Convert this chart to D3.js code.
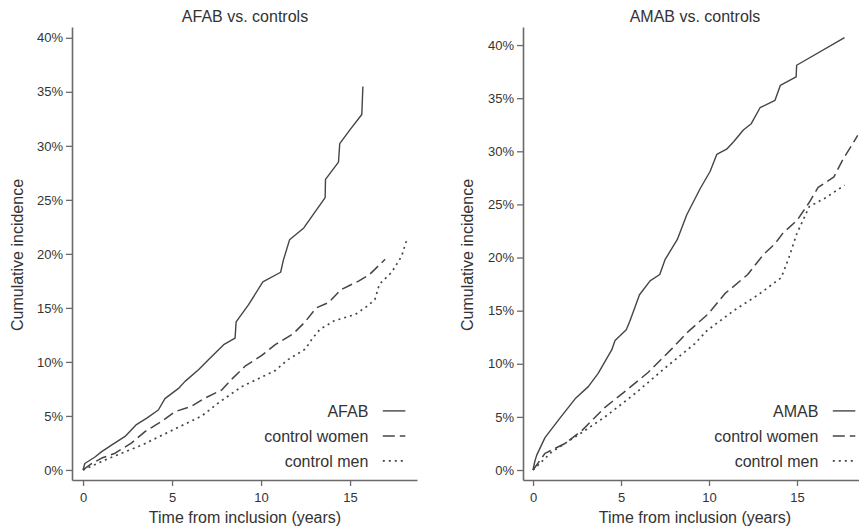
<!DOCTYPE html>
<html>
<head>
<meta charset="utf-8">
<script src="https://cdn.jsdelivr.net/npm/d3@7"></script>
<style>
  html, body { margin: 0; padding: 0; background: #fff; }
  svg { display: block; font-family: "Liberation Sans", Arial, Helvetica, sans-serif; }
</style>
</head>
<body>
<svg id="chart" width="859" height="528"></svg>
<script>
// Cumulative incidence curves: [years from inclusion, cumulative incidence %]
const afab = [[0,0],[0.1,0.6],[0.67,1.2],[1.05,1.7],[1.6,2.3],[2.36,3.1],[3.0,4.2],[3.58,4.8],[4.23,5.55],[4.6,6.6],[5.4,7.6],[5.73,8.2],[6.5,9.3],[7.1,10.3],[7.9,11.6],[8.54,12.2],[8.6,13.7],[9.3,15.3],[10.1,17.4],[11.1,18.3],[11.25,19.4],[11.6,21.3],[12.4,22.4],[13.6,25.2],[13.62,26.9],[14.35,28.5],[14.42,30.2],[15.0,31.5],[15.66,32.9],[15.72,35.5]];
const afabControlWomen = [[0,0],[0.5,0.6],[1.05,1.1],[1.8,1.55],[2.73,2.5],[3.48,3.55],[4.42,4.5],[5.17,5.4],[6.1,5.9],[6.85,6.65],[7.79,7.4],[8.35,8.4],[9.1,9.6],[10.04,10.6],[10.8,11.6],[11.8,12.6],[12.47,13.7],[13.1,15.0],[13.8,15.5],[14.5,16.7],[15.5,17.5],[16.1,18.1],[16.97,19.5]];
const afabControlMen = [[0,0],[1.42,1.05],[3.3,2.3],[5.17,3.8],[6.67,5.0],[7.6,6.2],[8.9,7.7],[10.8,9.2],[11.5,10.2],[12.5,11.2],[12.85,12.1],[13.3,13.0],[14.1,13.8],[15.3,14.4],[16.0,15.2],[16.4,15.8],[16.65,17.2],[17.34,18.3],[17.9,19.8],[18.2,21.4]];

const amab = [[0,0],[0.1,0.8],[0.21,1.4],[0.68,3.05],[1.44,4.7],[2.39,6.7],[3.14,7.85],[3.7,9.1],[4.47,11.3],[4.66,12.2],[5.3,13.2],[5.5,14.0],[6.05,16.5],[6.65,17.8],[7.2,18.4],[7.5,19.8],[8.2,21.7],[8.73,24.0],[9.5,26.5],[10.06,28.1],[10.44,29.7],[11.0,30.2],[11.4,30.9],[11.95,32.0],[12.4,32.6],[12.9,34.1],[13.75,34.8],[14.05,36.2],[14.95,37.0],[14.98,38.1],[17.7,40.7]];
const amabControlWomen = [[0,0],[0.68,1.57],[1.82,2.5],[2.77,3.7],[4.09,5.9],[5.23,7.4],[6.55,9.2],[7.88,11.4],[8.8,13.0],[9.96,14.7],[10.9,16.6],[12.2,18.4],[13.1,20.3],[13.75,21.3],[14.2,22.3],[15.0,23.5],[15.7,25.2],[16.2,26.6],[17.1,27.6],[17.6,29.2],[18.45,31.5]];
const amabControlMen = [[0,0],[1.06,1.7],[2.57,3.3],[4.09,5.0],[5.8,7.2],[7.5,9.6],[9.2,11.9],[9.87,13.1],[11.4,15.0],[12.8,16.5],[14.1,18.1],[14.5,19.8],[15.0,22.3],[15.7,24.8],[16.6,25.6],[17.7,26.8]];

const xTicks = [0, 5, 10, 15];
const yTicks = [0, 5, 10, 15, 20, 25, 30, 35, 40];
const panelTitles = ["AFAB vs. controls", "AMAB vs. controls"];
const leftLegend = ["AFAB", "control women", "control men"];
const rightLegend = ["AMAB", "control women", "control men"];

const svg = d3.select("#chart");
const ink = "#333";
const lineInk = "#454545";
const axisInk = "#6a6a6a";
const dashes = [null, "11,5", "2,4"];
const widths = [1.4, 1.5, 1.7];

function panel(cfg) {
  const g = svg.append("g");
  const x = d3.scaleLinear().domain(cfg.xDomain).range(cfg.xRange);
  const y = d3.scaleLinear().domain(cfg.yDomain).range([480, 27]);

  const yAxis = d3.axisLeft(y).tickValues(yTicks).tickSize(6).tickPadding(3).tickSizeOuter(0)
    .tickFormat(d => d + "%");
  const xAxis = d3.axisBottom(x).tickValues(xTicks).tickSize(6).tickPadding(7).tickSizeOuter(0);

  const ya = g.append("g").attr("transform", `translate(${cfg.xRange[0]},0)`).call(yAxis);
  const xa = g.append("g").attr("transform", "translate(0,480)").call(xAxis);
  [ya, xa].forEach(a => {
    a.select(".domain").attr("stroke", axisInk).attr("stroke-width", 1.6);
    a.selectAll(".tick line").attr("stroke", axisInk).attr("stroke-width", 1.3);
    a.selectAll(".tick text").attr("fill", ink).style("font-size", "13px")
      .style("font-family", "'Liberation Sans', Arial, sans-serif");
  });

  const line = d3.line().x(d => x(d[0])).y(d => y(d[1]));
  cfg.series.forEach((s, i) => {
    g.append("path").datum(s)
      .attr("d", line)
      .attr("fill", "none")
      .attr("stroke", lineInk)
      .attr("stroke-width", widths[i])
      .attr("stroke-linejoin", "round")
      .attr("stroke-dasharray", dashes[i]);
  });

  g.append("text").attr("x", cfg.titleX).attr("y", 22).attr("text-anchor", "middle")
    .attr("fill", ink).style("font-size", "16px").text(cfg.title);
  g.append("text").attr("x", cfg.titleX).attr("y", 523).attr("text-anchor", "middle")
    .attr("fill", ink).style("font-size", "16px").text("Time from inclusion (years)");
  g.append("text").attr("transform", `translate(${cfg.yLabelX},255) rotate(-90)`)
    .attr("text-anchor", "middle").attr("fill", ink).style("font-size", "16px")
    .text("Cumulative incidence");

  const leg = g.append("g");
  cfg.legend.forEach((name, i) => {
    const by = 416.7 + i * 25;
    leg.append("text").attr("x", cfg.legendX).attr("y", by).attr("text-anchor", "end")
      .attr("fill", ink).style("font-size", "16px").text(name);
    leg.append("line")
      .attr("x1", cfg.legendX + 14.5).attr("x2", cfg.legendX + 37)
      .attr("y1", by - 5.8).attr("y2", by - 5.8)
      .attr("stroke", lineInk).attr("stroke-width", widths[i])
      .attr("stroke-dasharray", i === 1 ? "12,5" : dashes[i]);
  });
}

panel({
  xDomain: [-0.62, 18.76], xRange: [72, 417],
  yDomain: [-0.93, 41.0],
  series: [afab, afabControlWomen, afabControlMen],
  title: panelTitles[0], titleX: 245, yLabelX: 23,
  legend: leftLegend, legendX: 368.3
});
panel({
  xDomain: [-0.57, 19.0], xRange: [523, 867.4],
  yDomain: [-0.94, 41.7],
  series: [amab, amabControlWomen, amabControlMen],
  title: panelTitles[1], titleX: 695, yLabelX: 473,
  legend: rightLegend, legendX: 818.3
});
</script>
</body>
</html>
